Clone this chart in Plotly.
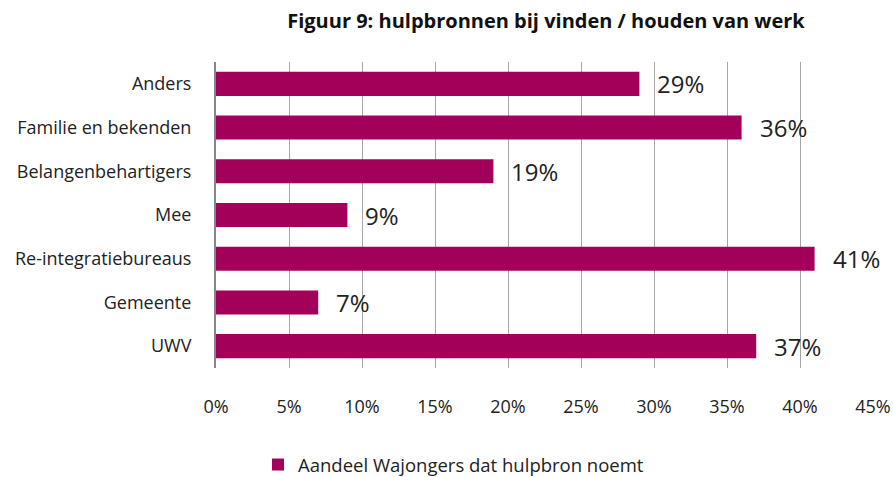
import plotly.graph_objects as go

categories = ["UWV", "Gemeente", "Re-integratiebureaus", "Mee", "Belangenbehartigers", "Familie en bekenden", "Anders"]
values = [37, 7, 41, 9, 19, 36, 29]
labels = [f"{v}%" for v in values]
tick_vals = [0, 5, 10, 15, 20, 25, 30, 35, 40, 45]
tick_text = [f"{t}%" for t in tick_vals]
series_name = "Aandeel Wajongers dat hulpbron noemt"
title = "Figuur 9: hulpbronnen bij vinden / houden van werk"

FONT = "Open Sans"
BAR = "#A3005A"

fig = go.Figure()
fig.add_trace(go.Bar(
    x=values, y=categories, orientation="h", name=series_name,
    marker=dict(color=BAR, line=dict(width=0)),
    showlegend=True,
))
for v, c, t in zip(values, categories, labels):
    fig.add_annotation(x=v, y=c, text=t, showarrow=False, xanchor="left",
                       xshift=16, yshift=0, font=dict(family=FONT, size=24, color="#222"))

fig.update_layout(
    width=893, height=477,
    margin=dict(l=216, r=20, t=62, b=109, autoexpand=False),
    paper_bgcolor="white", plot_bgcolor="white",
    bargap=0.45,
    title=dict(text=f"<b>{title}</b>", x=546 / 893, xanchor="center", y=1 - 21 / 477, yanchor="middle",
               font=dict(family=FONT, size=20, color="#111")),
    font=dict(family=FONT, size=18, color="#222"),
    showlegend=True,
    legend=dict(orientation="h", xref="container", x=258 / 893, xanchor="left",
                yref="container", y=1 - 465 / 477, yanchor="middle",
                font=dict(family=FONT, size=18.5, color="#222")),
    xaxis=dict(range=[0, 45], tickvals=tick_vals, ticktext=tick_text,
               showgrid=True, gridcolor="#A6A6A6", gridwidth=1, automargin=False,
               zeroline=False, showline=False, ticks="", ticklabelstandoff=26,
               tickfont=dict(family=FONT, size=18, color="#222")),
    yaxis=dict(categoryorder="array", categoryarray=categories, automargin=False,
               showline=True, linecolor="#868686", linewidth=2,
               showgrid=False, ticks="", ticklabelstandoff=19,
               tickfont=dict(family=FONT, size=18, color="#222")),
)

fig.write_html("out.html", config={"displayModeBar": False},
               post_script="document.body.style.margin='0';")
